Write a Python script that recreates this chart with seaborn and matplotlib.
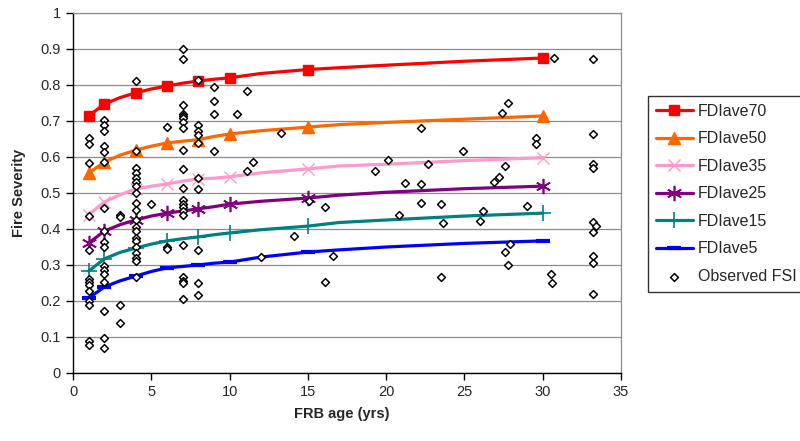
import matplotlib
matplotlib.use("Agg")
import matplotlib.pyplot as plt
import seaborn as sns
import pandas as pd
from matplotlib.ticker import FuncFormatter

sns.set_theme(style="white")
plt.rcParams["font.family"] = ["Liberation Sans", "DejaVu Sans"]

# ---- data ----
line_x = [1, 2, 3, 4, 5, 6, 7, 8, 9, 10, 12, 15, 17, 20, 25, 30]
marker_x = [1, 2, 4, 6, 8, 10, 15, 30]

fd70 = [0.714, 0.747, 0.765, 0.778, 0.789, 0.797, 0.805, 0.811, 0.816, 0.820, 0.832, 0.843, 0.848, 0.855, 0.866, 0.875]
fd50 = [0.555, 0.586, 0.605, 0.619, 0.630, 0.639, 0.644, 0.648, 0.657, 0.664, 0.673, 0.683, 0.690, 0.696, 0.705, 0.714]
fd35 = [0.440, 0.475, 0.495, 0.511, 0.519, 0.525, 0.533, 0.539, 0.541, 0.545, 0.556, 0.567, 0.575, 0.580, 0.590, 0.598]
fd25 = [0.361, 0.394, 0.412, 0.425, 0.436, 0.444, 0.450, 0.456, 0.462, 0.469, 0.477, 0.486, 0.494, 0.502, 0.512, 0.519]
fd15 = [0.283, 0.317, 0.335, 0.347, 0.358, 0.367, 0.373, 0.378, 0.384, 0.389, 0.398, 0.408, 0.418, 0.425, 0.436, 0.444]
fd5 = [0.208, 0.239, 0.256, 0.269, 0.282, 0.292, 0.296, 0.300, 0.305, 0.308, 0.322, 0.336, 0.342, 0.350, 0.360, 0.367]

obs_x = ([1] * 13 + [2] * 17 + [3] * 4 + [4] * 20 + [5] + [6] * 3 + [7] * 21 + [8] * 10 + [9] * 4
         + [10.5, 11.1, 11.5, 11.1, 12.0, 13.3, 14.1, 15.1, 16.1, 16.6, 16.1, 19.3, 20.1, 20.8,
            21.2, 22.2, 22.2, 22.7, 22.2, 23.5, 23.6, 23.5, 24.9, 26.2, 26.0, 26.9, 27.2, 27.6,
            27.4, 27.8, 27.9, 27.6, 27.8, 29.0, 29.6, 29.6, 30.7, 30.5, 30.6,
            33.2, 33.2, 33.2, 33.2, 33.2, 33.4, 33.2, 33.2, 33.2, 33.2])
obs_y = ([0.653, 0.636, 0.583, 0.436, 0.342, 0.261, 0.253, 0.244, 0.228, 0.200, 0.190, 0.089, 0.078]
         + [0.703, 0.690, 0.672, 0.631, 0.614, 0.586, 0.458, 0.394, 0.364, 0.350, 0.296, 0.285, 0.274, 0.253, 0.172, 0.097, 0.069]
         + [0.439, 0.433, 0.190, 0.139]
         + [0.811, 0.617, 0.570, 0.555, 0.541, 0.530, 0.520, 0.500, 0.472, 0.453, 0.425, 0.405, 0.395, 0.375, 0.367, 0.350, 0.333, 0.320, 0.311, 0.267]
         + [0.469]
         + [0.683, 0.350, 0.345]
         + [0.900, 0.872, 0.744, 0.720, 0.714, 0.708, 0.697, 0.680, 0.620, 0.567, 0.515, 0.480, 0.470, 0.460, 0.450, 0.439, 0.356, 0.267, 0.256, 0.250, 0.206]
         + [0.814, 0.690, 0.672, 0.660, 0.640, 0.542, 0.512, 0.343, 0.250, 0.217]
         + [0.795, 0.755, 0.720, 0.617]
         + [0.720, 0.783, 0.586, 0.561, 0.322, 0.667, 0.380, 0.478, 0.461, 0.325, 0.253, 0.561, 0.592, 0.439,
            0.528, 0.525, 0.680, 0.580, 0.472, 0.469, 0.417, 0.267, 0.617, 0.450, 0.422, 0.530, 0.544, 0.575,
            0.722, 0.750, 0.358, 0.336, 0.300, 0.464, 0.653, 0.636, 0.875, 0.275, 0.250,
            0.872, 0.664, 0.580, 0.570, 0.419, 0.408, 0.392, 0.325, 0.306, 0.219])

x_ticks = [0, 5, 10, 15, 20, 25, 30, 35]
y_ticks = [0, 0.1, 0.2, 0.3, 0.4, 0.5, 0.6, 0.7, 0.8, 0.9, 1.0]

series = [
    ("FDIave70", fd70, "#FF0000", "s", 6.5, 1.0),
    ("FDIave50", fd50, "#FF6600", "^", 8, 1.0),
    ("FDIave35", fd35, "#FF99CC", "x", 9, 1.0),
    ("FDIave25", fd25, "#800080", (6, 2, 0), 11, 1.2),
    ("FDIave15", fd15, "#008080", "+", 11, 1.2),
    ("FDIave5", fd5, "#0000FF", "_", 10, 3.0),
]

fig = plt.figure(figsize=(8, 4.41), dpi=100)
ax = fig.add_axes([73 / 800, 1 - 373 / 441, (621 - 73) / 800, (373 - 13) / 441])

mark_idx = [line_x.index(v) for v in marker_x]
for name, vals, col, mk, ms, mew in series:
    df = pd.DataFrame({"x": line_x, "y": vals})
    sns.lineplot(data=df, x="x", y="y", ax=ax, color=col, lw=2.3, marker=mk,
                 markersize=ms, markeredgewidth=mew, markeredgecolor=col,
                 markerfacecolor=col, markevery=mark_idx, label=name, sort=False,
                 estimator=None, zorder=3)

obs = pd.DataFrame({"x": obs_x, "y": obs_y})
sns.scatterplot(data=obs, x="x", y="y", ax=ax, marker="D", s=16, facecolor="white",
                edgecolor="black", linewidth=1.1, label="Observed FSI", zorder=4)

ax.set_xlim(0, 35)
ax.set_ylim(0, 1)
ax.set_xticks(x_ticks)
ax.set_yticks(y_ticks)
ax.yaxis.set_major_formatter(FuncFormatter(lambda v, p: f"{v:g}"))
ax.xaxis.set_major_formatter(FuncFormatter(lambda v, p: f"{v:g}"))
ax.grid(axis="y", color="#8c8c8c", lw=0.9)
ax.set_axisbelow(True)
for s in ["left", "bottom"]:
    ax.spines[s].set_color("black")
    ax.spines[s].set_linewidth(1.0)
for s in ["right", "top"]:
    ax.spines[s].set_color("#8c8c8c")
    ax.spines[s].set_linewidth(0.9)
ax.tick_params(axis="both", which="major", direction="out", length=5, width=1,
               color="black", labelsize=10.5, left=True, bottom=True, pad=4)

ax.set_xlabel("FRB age (yrs)", fontsize=10.5, fontweight="bold")
ax.set_ylabel("Fire Severity", fontsize=10.5, fontweight="bold")
ax.xaxis.set_label_coords(0.49, -0.095)
ax.yaxis.set_label_coords(-0.085, 0.5)

ax.get_legend().remove()
h, l = ax.get_legend_handles_labels()
leg = fig.legend(h, l, loc="upper left", bbox_to_anchor=(648 / 800, 1 - 96 / 441),
                 frameon=True, fancybox=False, edgecolor="black", fontsize=11.5,
                 handlelength=2.3, handletextpad=0.3, labelspacing=0.78,
                 borderpad=0.5, borderaxespad=0)
leg.get_frame().set_linewidth(1.0)

fig.savefig("out.png", dpi=100)
